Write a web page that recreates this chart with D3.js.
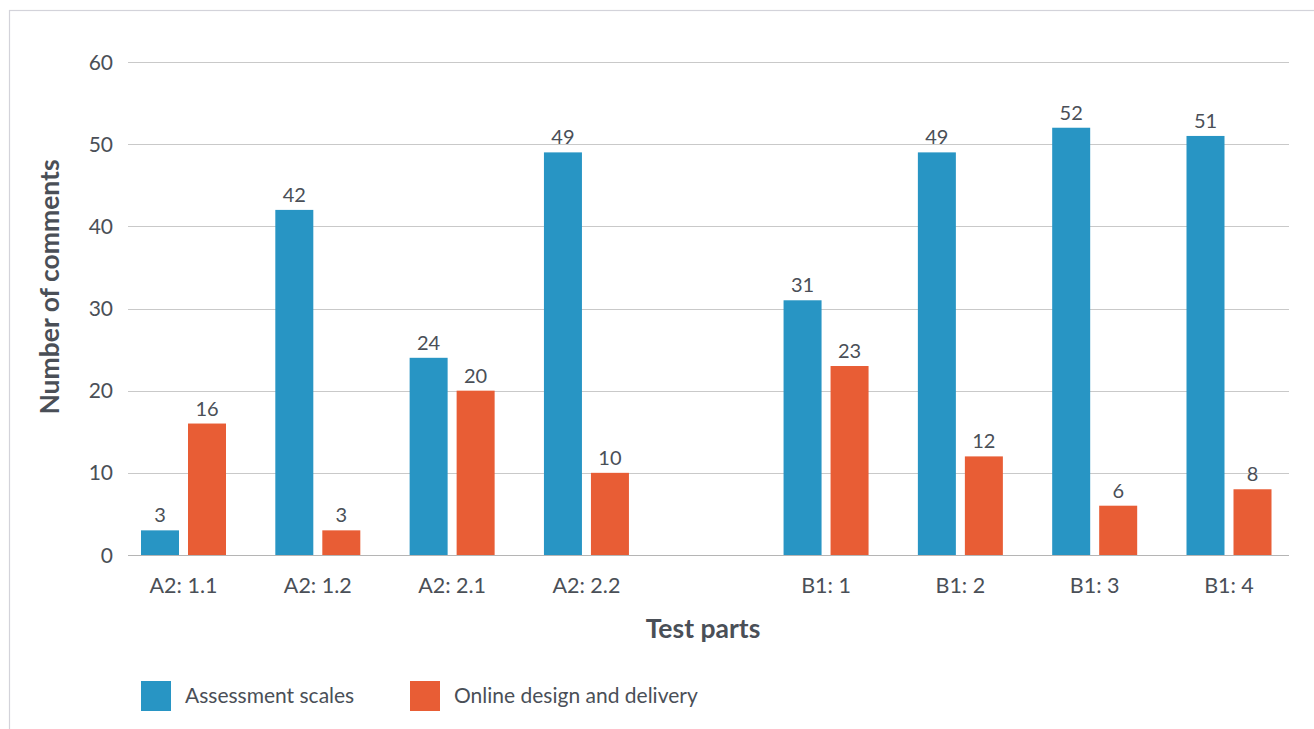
<!doctype html>
<html>
<head>
<meta charset="utf-8">
<title>Comments by test part</title>
<style>
  body { margin: 0; background: #fff; }
  svg { display: block; }
  text { font-family: Lato, "Open Sans", sans-serif; fill: #4a4f57; }
</style>
<script src="https://cdn.jsdelivr.net/npm/d3@7"></script>
</head>
<body>
<svg width="1314" height="729"></svg>
<script>
var categories = ['A2: 1.1', 'A2: 1.2', 'A2: 2.1', 'A2: 2.2', 'B1: 1', 'B1: 2', 'B1: 3', 'B1: 4'];
var assessmentScales = [3, 42, 24, 49, 31, 49, 52, 51];
var onlineDesign = [16, 3, 20, 10, 23, 12, 6, 8];
var seriesNames = ['Assessment scales', 'Online design and delivery'];
var seriesColors = ['#2895c4', '#e85d35'];
var yTicks = [0, 10, 20, 30, 40, 50, 60];

var $svg = d3.select('svg');

// outer frame, runs off the right and bottom edges
$svg.append('rect')
  .attr('x', 9.5).attr('y', 10.5)
  .attr('width', 1400).attr('height', 800)
  .attr('fill', 'none')
  .attr('stroke', '#d3d3da')
  .attr('stroke-width', 1.2);

var plotLeft = 128, plotRight = 1289, plotTop = 62, plotBottom = 555;

var y = d3.scaleLinear().domain([0, 60]).range([plotBottom, plotTop]);

// groups A and B are split by a wider gap
var gap = 0.784;
var x = d3.scaleLinear().domain([0, 7 + gap]).range([183.5, 1229]);
function groupX(i) { return x(i + (i >= 4 ? gap : 0)); }

var barW = 38, barGap = 9;

// grid
$svg.append('g')
  .selectAll('line').data(yTicks).enter().append('line')
  .attr('x1', plotLeft).attr('x2', plotRight)
  .attr('y1', function(d){ return Math.round(y(d)) + 0.5; })
  .attr('y2', function(d){ return Math.round(y(d)) + 0.5; })
  .attr('stroke', function(d){ return d === 0 ? '#b5b5b5' : '#c9c9c9'; })
  .attr('stroke-width', 1.2);

// y tick labels
$svg.append('g').selectAll('text').data(yTicks).enter().append('text')
  .attr('x', 113)
  .attr('y', function(d){ return y(d) + 7.5; })
  .attr('text-anchor', 'end')
  .style('font-size', '21px')
  .text(function(d){ return d; });

var series = [assessmentScales, onlineDesign];

series.forEach(function(values, s){
  var offset = s === 0 ? -(barW + barGap / 2) : barGap / 2;
  var g = $svg.append('g');
  g.selectAll('rect').data(values).enter().append('rect')
    .attr('x', function(d, i){ return groupX(i) + offset; })
    .attr('y', function(d){ return y(d); })
    .attr('width', barW)
    .attr('height', function(d){ return plotBottom - y(d); })
    .attr('fill', seriesColors[s]);

  g.selectAll('text').data(values).enter().append('text')
    .attr('x', function(d, i){ return groupX(i) + offset + barW / 2; })
    .attr('y', function(d){ return y(d) - 8; })
    .attr('text-anchor', 'middle')
    .style('font-size', '20px')
    .text(function(d){ return d; });
});

// x labels
$svg.append('g').selectAll('text').data(categories).enter().append('text')
  .attr('x', function(d, i){ return groupX(i); })
  .attr('y', 593)
  .attr('text-anchor', 'middle')
  .style('font-size', '21.5px')
  .text(function(d){ return d; });

// axis titles
$svg.append('text')
  .attr('x', 703).attr('y', 638)
  .attr('text-anchor', 'middle')
  .style('font-size', '26.5px')
  .style('font-weight', 'bold')
  .text('Test parts');

$svg.append('text')
  .attr('transform', 'translate(59,287) rotate(-90)')
  .attr('text-anchor', 'middle')
  .style('font-size', '26.5px')
  .style('font-weight', 'bold')
  .text('Number of comments');

// legend
var legendX = [141, 410];
var legend = $svg.append('g').selectAll('g').data(seriesNames).enter().append('g')
  .attr('transform', function(d, i){ return 'translate(' + legendX[i] + ',681)'; });
legend.append('rect')
  .attr('width', 30).attr('height', 30)
  .attr('fill', function(d, i){ return seriesColors[i]; });
legend.append('text')
  .attr('x', 44).attr('y', 22)
  .style('font-size', '21px')
  .text(function(d){ return d; });
</script>
</body>
</html>
